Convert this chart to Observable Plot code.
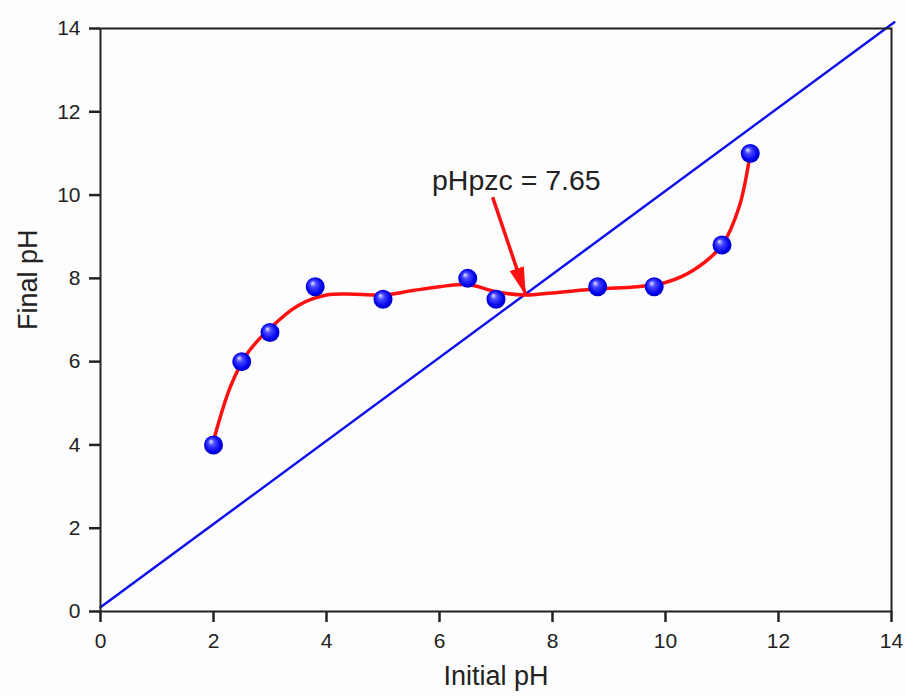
<!DOCTYPE html>
<html>
<head>
<meta charset="utf-8">
<script src="https://cdn.jsdelivr.net/npm/d3@7"></script>
<script src="https://cdn.jsdelivr.net/npm/@observablehq/plot@0.6"></script>
<style>
  body { margin: 0; background: #fff; }
  #chart svg { display: block; }
</style>
</head>
<body>
<div id="chart"></div>
<script>
// Measured points (Initial pH, Final pH)
const initialPH = [2, 2.5, 3, 3.8, 5, 6.5, 7, 8.8, 9.8, 11, 11.5];
const finalPH   = [4, 6, 6.7, 7.8, 7.5, 8.0, 7.5, 7.8, 7.8, 8.8, 11];

// Smoothed fit curve through the data
const fitX = [2, 2.3, 2.6, 3, 3.5, 4, 4.5, 5, 5.5, 6, 6.5, 7, 7.5, 8, 8.8, 9.5, 10, 10.5, 11, 11.3, 11.5];
const fitY = [4.1, 5.4, 6.2, 6.8, 7.35, 7.6, 7.62, 7.6, 7.7, 7.8, 7.85, 7.68, 7.6, 7.65, 7.75, 7.8, 7.9, 8.2, 8.8, 9.7, 11];

// Reference line y = x
const refX = [0, 14.05];
const refY = [0.1, 14.15];

// Annotation
const annText = "pHpzc = 7.65";
const annPos = {x: 7.36, y: 10.33};
const arrowFrom = {x: 6.94, y: 9.95};
const arrowTo = {x: 7.52, y: 7.62};

const xTicks = [0, 2, 4, 6, 8, 10, 12, 14];
const yTicks = [0, 2, 4, 6, 8, 10, 12, 14];

const points = initialPH.map((x, i) => ({x, y: finalPH[i]}));
const fit = fitX.map((x, i) => ({x, y: fitY[i]}));
const ref = refX.map((x, i) => ({x, y: refY[i]}));

const chart = Plot.plot({
  width: 905,
  height: 696,
  marginLeft: 100,
  marginTop: 28,
  marginRight: 14,
  marginBottom: 85,
  style: {fontFamily: "Liberation Sans, Arial, sans-serif", color: "#222", background: "#fdfdfd"},
  x: {domain: [0, 14]},
  y: {domain: [0, 14]},
  marks: [
    Plot.line(ref, {x: "x", y: "y", stroke: "#1010ee", strokeWidth: 2.5, clip: false}),
    Plot.line(fit, {x: "x", y: "y", stroke: "#ff1010", strokeWidth: 3.5, curve: "catmull-rom"}),
    Plot.frame({stroke: "#222", strokeWidth: 2}),
    Plot.axisX({ticks: xTicks, tickSize: 11, tickFormat: () => "", label: null, stroke: "#222", strokeWidth: 2.5}),
    Plot.axisY({ticks: yTicks, tickSize: 11, tickFormat: () => "", label: null, stroke: "#222", strokeWidth: 2.5}),
    Plot.text(xTicks, {x: d => d, y: () => 0, dy: 30, fontSize: 21, fill: "#222", lineAnchor: "middle", clip: false}),
    Plot.text(yTicks, {y: d => d, x: () => 0, dx: -20, fontSize: 21, fill: "#222", textAnchor: "end", lineAnchor: "middle", clip: false}),
    Plot.text(["Initial pH"], {frameAnchor: "bottom", dy: 73, fontSize: 27, fill: "#222"}),
    Plot.text(["Final pH"], {frameAnchor: "left", dx: -72, dy: 10, rotate: -90, fontSize: 27, fill: "#222"}),
    Plot.dot(points, {x: "x", y: "y", r: 9.5, fill: "#1a1aff", stroke: "none"}),
    Plot.link([{x1: arrowFrom.x, y1: arrowFrom.y, x2: arrowTo.x, y2: arrowTo.y}], {x1: "x1", y1: "y1", x2: "x2", y2: "y2", stroke: "#ff1010", strokeWidth: 3.5}),
    Plot.text([annText], {x: () => annPos.x, y: () => annPos.y, fontSize: 28.5, fill: "#222"})
  ]
});

const svg = d3.select(chart);
const defs = svg.insert("defs", ":first-child");
const grad = defs.append("radialGradient").attr("id", "ball").attr("cx", "50%").attr("cy", "50%").attr("r", "55%").attr("fx", "35%").attr("fy", "30%");
grad.append("stop").attr("offset", "0%").attr("stop-color", "#e8e8ff");
grad.append("stop").attr("offset", "30%").attr("stop-color", "#4a4aff");
grad.append("stop").attr("offset", "75%").attr("stop-color", "#0000ee");
grad.append("stop").attr("offset", "100%").attr("stop-color", "#0000b0");
svg.selectAll('g[aria-label="dot"] circle').attr("fill", "url(#ball)");

// filled arrowhead for the annotation arrow
defs.append("marker")
  .attr("id", "pzc-head")
  .attr("markerUnits", "userSpaceOnUse")
  .attr("viewBox", "0 -8 28 16")
  .attr("refX", 27).attr("refY", 0)
  .attr("markerWidth", 28).attr("markerHeight", 16)
  .attr("orient", "auto")
  .append("path").attr("d", "M0,-7.5L28,0L0,7.5Z").attr("fill", "#ff1010").attr("stroke", "none");
svg.selectAll('g[aria-label="link"] path').attr("marker-end", "url(#pzc-head)");

document.getElementById("chart").appendChild(chart);
</script>
</body>
</html>
